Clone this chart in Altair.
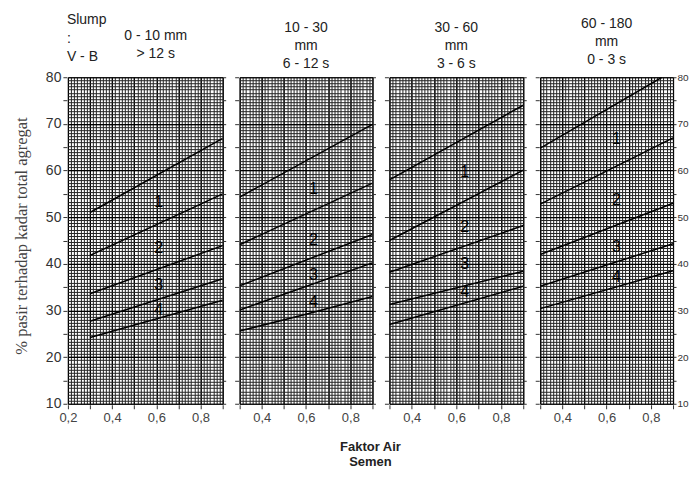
import altair as alt
import pandas as pd
import numpy as np

# ---------------- data ----------------
panel_ids = ["A", "B", "C", "D"]
headers = [
    ["0 - 10 mm", "> 12 s"],
    ["10 - 30", "mm", "6 - 12 s"],
    ["30 - 60", "mm", "3 - 6 s"],
    ["60 - 180", "mm", "0 - 3 s"],
]
row_labels = ["Slump", ":", "V - B"]
x_domains = [[0.2, 0.9], [0.3, 0.9], [0.3, 0.9], [0.3, 0.9]]
y_domain = [10, 80]

# boundary curves per panel: (x values, y values)
curves_A = [
    ([0.3, 0.9], [51.0, 66.9]),
    ([0.3, 0.9], [41.8, 55.0]),
    ([0.3, 0.9], [33.6, 43.9]),
    ([0.3, 0.9], [27.7, 36.8]),
    ([0.3, 0.9], [24.2, 32.2]),
]
curves_B = [
    ([0.3, 0.9], [54.3, 69.9]),
    ([0.3, 0.9], [44.1, 57.3]),
    ([0.3, 0.9], [35.3, 46.3]),
    ([0.3, 0.9], [30.1, 40.2]),
    ([0.3, 0.6, 0.9], [25.6, 29.2, 33.0]),
]
curves_C = [
    ([0.3, 0.9], [58.0, 74.0]),
    ([0.3, 0.9], [45.0, 60.1]),
    ([0.3, 0.9], [38.2, 48.2]),
    ([0.3, 0.9], [31.3, 38.4]),
    ([0.3, 0.9], [27.0, 35.2]),
]
curves_D = [
    ([0.3, 0.85], [64.8, 80.0]),
    ([0.3, 0.9], [52.8, 67.0]),
    ([0.3, 0.9], [42.0, 53.0]),
    ([0.3, 0.9], [35.2, 44.3]),
    ([0.3, 0.9], [30.4, 38.5]),
]
all_curves = [curves_A, curves_B, curves_C, curves_D]

zones = ["1", "2", "3", "4"]
zone_label_x = [0.61, 0.633, 0.637, 0.644]
zone_label_y = [
    [53.2, 43.3, 35.4, 30.1],
    [56.0, 45.2, 37.5, 31.8],
    [59.6, 47.8, 40.0, 34.0],
    [66.7, 53.7, 43.6, 37.2],
]

y_title = "% pasir terhadap kadar total agregat"
x_title = ["Faktor Air", "Semen"]

# ---------------- build tables ----------------
line_rows = []
for pid, curves in zip(panel_ids, all_curves):
    for ci, (xs, ys) in enumerate(curves):
        for k, (xv, yv) in enumerate(zip(xs, ys)):
            line_rows.append({"panel": pid, "curve": ci, "order": k, "x": xv, "y": yv})
lines_df = pd.DataFrame(line_rows)

label_rows = []
for pid, lx, lys in zip(panel_ids, zone_label_x, zone_label_y):
    for z, ly in zip(zones, lys):
        label_rows.append({"panel": pid, "zone": z, "x": lx, "y": ly})
labels_df = pd.DataFrame(label_rows)

panel_widths = [155, 133, 134, 133]
H = 327
FONT = "Liberation Sans"
comma_expr = "replace(format(datum.value, '.1f'), '.', ',')"


def sc(dom):
    return alt.Scale(domain=dom, nice=False, zero=False)


def panel(i):
    pid = panel_ids[i]
    xd = x_domains[i]
    x0 = xd[0]
    minor_x = list(np.round(np.arange(x0, 0.9 + 1e-9, 0.1 / 7), 5))
    minor_y = list(np.round(np.arange(10, 80 + 1e-9, 10 / 15), 4))
    major_x = list(np.round(np.arange(x0, 0.9 + 1e-9, 0.1), 2))
    major_y = list(range(10, 81, 10))
    tick_x = major_x
    tick_y = list(range(10, 81, 5))

    base = alt.Chart(lines_df).transform_filter(alt.datum.panel == pid)

    def grid_layer(vx, vy, color, width):
        return base.mark_line(strokeOpacity=0).encode(
            x=alt.X("x:Q", scale=sc(xd), axis=alt.Axis(values=vx, grid=True, gridColor=color,
                    gridWidth=width, gridOpacity=1, labels=False, ticks=False, domain=False,
                    title=None, orient="bottom")),
            y=alt.Y("y:Q", scale=sc(y_domain), axis=alt.Axis(values=vy, grid=True, gridColor=color,
                    gridWidth=width, gridOpacity=1, labels=False, ticks=False, domain=False,
                    title=None, orient="left")),
            detail="curve:N",
        )

    g_minor = grid_layer(minor_x, minor_y, "#262626", 1.0)
    g_major = grid_layer(major_x, major_y, "#000000", 1.2)

    left_axis = alt.Axis(
        values=tick_y, orient="left", grid=False, domain=False, tickSize=4, tickColor="#333",
        offset=1, labels=(i == 0), labelExpr="datum.value % 10 == 0 ? datum.label : ''",
        labelFont=FONT, labelFontSize=14, labelColor="#333", labelPadding=2,
        labelFlush=False, labelOverlap=False,
        title=y_title if i == 0 else None, titleFont="Liberation Serif", titleFontSize=16.5,
        titleFontWeight="normal", titleColor="#444", titlePadding=16, titleY=H / 2 - 5,
    )
    bottom_axis = alt.Axis(
        values=tick_x, orient="bottom", grid=False, domain=False, tickSize=4, tickColor="#333",
        offset=1, labelExpr="round(datum.value * 10) % 2 == 0 ? " + comma_expr + " : ''",
        labelFont=FONT, labelFontSize=13, labelColor="#444", labelPadding=3,
        labelFlush=False, labelOverlap=False, title=None,
    )
    lines = base.mark_line(color="black", strokeWidth=1.5, clip=True).encode(
        x=alt.X("x:Q", scale=sc(xd), axis=bottom_axis),
        y=alt.Y("y:Q", scale=sc(y_domain), axis=left_axis),
        detail="curve:N",
        order="order:Q",
    )

    right_axis = alt.Axis(
        values=tick_y, orient="right", grid=False, domain=False, tickSize=3, tickColor="#333",
        offset=0, labels=(i == 3), labelExpr="datum.value % 10 == 0 ? datum.label : ''",
        labelFont=FONT, labelFontSize=10, labelColor="#333", labelPadding=1,
        labelFlush=False, labelOverlap=False, title=None,
    )
    right = base.mark_line(strokeOpacity=0).encode(
        x=alt.X("x:Q", scale=sc(xd), axis=None),
        y=alt.Y("y:Q", scale=sc(y_domain), axis=right_axis),
        detail="curve:N",
    )

    texts = alt.Chart(labels_df).transform_filter(alt.datum.panel == pid).mark_text(
        font=FONT, fontSize=16, color="black", align="center", baseline="middle"
    ).encode(
        x=alt.X("x:Q", scale=sc(xd), axis=None),
        y=alt.Y("y:Q", scale=sc(y_domain), axis=None),
        text="zone:N",
    )

    layers = [g_minor, g_major, lines, right, texts]
    one = pd.DataFrame({"k": [0]})
    if i == 0:
        rowtxt = alt.Chart(one).mark_text(
            font=FONT, fontSize=14, color="#222", align="left", baseline="top", lineHeight=18.5
        ).encode(x=alt.value(-1), y=alt.value(-64), text=alt.value(row_labels))
        headtxt = alt.Chart(one).mark_text(
            font=FONT, fontSize=14, color="#222", align="center", baseline="top", lineHeight=18
        ).encode(x=alt.value(88), y=alt.value(-48), text=alt.value(headers[0]))
        layers += [rowtxt, headtxt]
        props = dict(width=panel_widths[i], height=H)
    else:
        title = alt.TitleParams(
            text=headers[i], font=FONT, fontSize=14, fontWeight="normal", color="#222",
            lineHeight=18, anchor="middle", offset=5.5,
        )
        props = dict(width=panel_widths[i], height=H, title=title)
    if i == 1:
        xt = alt.Chart(one).mark_text(
            font=FONT, fontSize=13, fontWeight="bold", color="#222", align="center",
            baseline="alphabetic", lineHeight=15.5
        ).encode(x=alt.value(131), y=alt.value(H + 47), text=alt.value(x_title))
        layers.append(xt)
    return alt.layer(*layers).resolve_scale(x="independent", y="independent").properties(**props)


chart = alt.hconcat(*[panel(i) for i in range(4)], spacing=17, bounds="flush").properties(
    padding={"left": 4, "top": 4, "right": 0, "bottom": 0}
).configure_view(stroke="black", strokeWidth=1.5).configure(background="white")

chart.save("out.html", embed_options={"renderer": "svg", "actions": False})
